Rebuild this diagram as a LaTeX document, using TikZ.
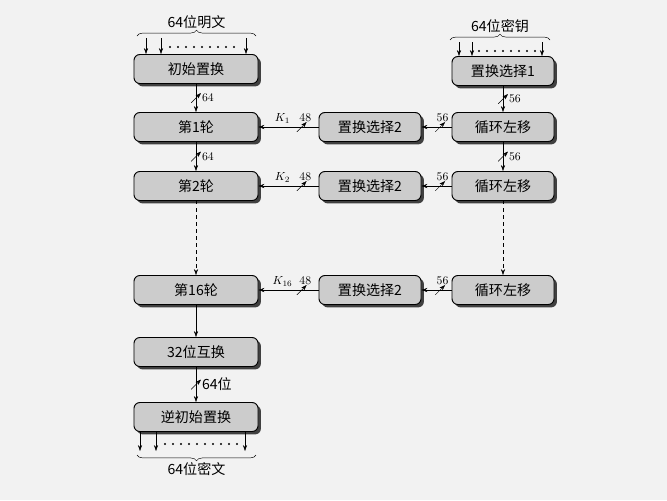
\documentclass[tikz,border=0pt]{standalone}
\usepackage{fontspec}
\newfontfamily\cjk{Noto Sans CJK SC}
\usetikzlibrary{arrows.meta,shadows,decorations.pathreplacing}
\tikzset{
  box/.style={draw, thick, rounded corners=5pt, fill=black!20, font=\cjk\large,
    minimum height=0.87cm,
    drop shadow={shadow xshift=2.5pt, shadow yshift=-2.5pt, fill=black!75, opacity=1}},
  lbox/.style={box, minimum width=3.72cm},
  rbox/.style={box, minimum width=3.06cm},
  arr/.style={-{Stealth[length=5pt,width=3.5pt]}},
  cut/.style={inner sep=0pt, minimum size=8.5pt,
    path picture={\draw (path picture bounding box.south west) -- (path picture bounding box.north east);}},
  lab/.style={font=\normalsize, inner sep=1pt},
  clab/.style={font=\cjk\large, inner sep=1pt},
  brace/.style={decorate, decoration={brace, amplitude=5pt}},
}
\begin{document}
\begin{tikzpicture}[x=0.03cm, y=-0.03cm]
\fill[black!5] (0,0) rectangle (667,500);
\useasboundingbox (0,0) rectangle (667,500);
% left column
\node[lbox] (init) at (196,69) {初始置换};
\node[lbox] (r1) at (196,127) {第1轮};
\node[lbox] (r2) at (196,186) {第2轮};
\node[lbox] (r16) at (196,290) {第16轮};
\node[lbox] (swap) at (196,352) {32位互换};
\node[lbox] (inv) at (196,417) {逆初始置换};
% right column
\node[rbox] (pc1) at (503,71) {置换选择1};
\node[rbox] (ls1) at (503,127) {循环左移};
\node[rbox] (ls2) at (503,186) {循环左移};
\node[rbox] (ls16) at (503,290) {循环左移};
\node[rbox] (pc2a) at (370,127) {置换选择2};
\node[rbox] (pc2b) at (370,186) {置换选择2};
\node[rbox] (pc2c) at (370,290) {置换选择2};
% plaintext input
\draw[brace] (137,36) -- (256,36) node[midway, above=5pt, clab] (pt) {64位明文};
\coordinate (in1) at (146,38);
\coordinate (in2) at (161,38);
\coordinate (in3) at (246,38);
\foreach \c in {in1,in2,in3}
  \draw[arr] (\c) -- (\c |- init.north);
\foreach \x in {170,178,...,234}
  \fill (\x,47) circle (0.9pt);
% key input
\draw[brace] (450,40) -- (550,40) node[midway, above=5pt, clab] (key) {64位密钥};
\coordinate (k1) at (459,42);
\coordinate (k2) at (472,42);
\coordinate (k3) at (542,42);
\foreach \c in {k1,k2,k3}
  \draw[arr] (\c) -- (\c |- pc1.north);
\foreach \x in {479,487,...,535}
  \fill (\x,51) circle (0.9pt);
% rounds
\draw[arr] (init) -- node[cut]{} node[lab, right=4pt]{64} (r1);
\draw[arr] (r1) -- node[cut]{} node[lab, right=4pt]{64} (r2);
\draw[arr, dashed] (r2) -- (r16);
\draw[arr] (r16) -- (swap);
\draw[arr] (swap) -- node[cut]{} node[clab, right=4pt]{64位} (inv);
% key schedule
\draw[arr] (pc1) -- node[cut]{} node[lab, right=4pt]{56} (ls1);
\draw[arr] (ls1) -- node[cut]{} node[lab, right=4pt]{56} (ls2);
\draw[arr, dashed] (ls2) -- (ls16);
\draw[arr] (ls1) -- node[cut, pos=0.38]{} node[lab, above=3pt, pos=0.3]{56} (pc2a);
\draw[arr] (ls2) -- node[cut, pos=0.38]{} node[lab, above=3pt, pos=0.3]{56} (pc2b);
\draw[arr] (ls16) -- node[cut, pos=0.38]{} node[lab, above=3pt, pos=0.3]{56} (pc2c);
\draw[arr] (pc2a) -- node[cut, pos=0.28]{} node[lab, above=3pt, pos=0.22]{48} node[lab, above=2pt, pos=0.6]{$K_1$} (r1);
\draw[arr] (pc2b) -- node[cut, pos=0.28]{} node[lab, above=3pt, pos=0.22]{48} node[lab, above=2pt, pos=0.6]{$K_2$} (r2);
\draw[arr] (pc2c) -- node[cut, pos=0.28]{} node[lab, above=3pt, pos=0.22]{48} node[lab, above=2pt, pos=0.6]{$K_{16}$} (r16);
% ciphertext output
\coordinate (out1) at (140,451);
\coordinate (out2) at (156,451);
\coordinate (out3) at (245,451);
\foreach \c in {out1,out2,out3}
  \draw[arr] (\c |- inv.south) -- (\c);
\foreach \x in {165,173,...,237}
  \fill (\x,444) circle (0.9pt);
\draw[brace] (256,455) -- (137,455) node[midway, below=5pt, clab] (ct) {64位密文};
\end{tikzpicture}
\end{document}
